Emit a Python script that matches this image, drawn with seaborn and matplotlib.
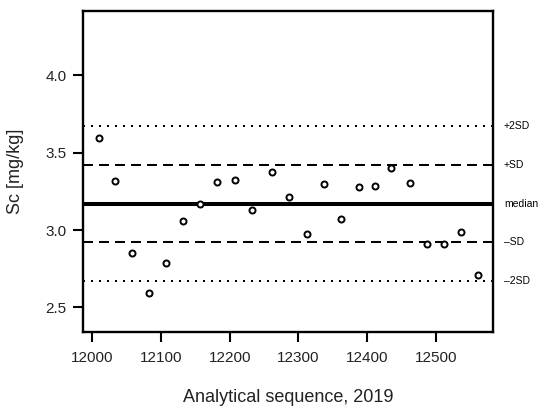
"""
Control chart: Sc concentration over the 2019 analytical sequence.
"""
import numpy as np
import pandas as pd
import matplotlib
matplotlib.use("Agg")
import matplotlib.pyplot as plt
import seaborn as sns

# Data
seq_no = [12009, 12033, 12058, 12082, 12107, 12132, 12157, 12182,
          12207, 12232, 12262, 12287, 12312, 12337, 12362, 12388,
          12412, 12435, 12463, 12487, 12512, 12537, 12561]
sc_mgkg = [3.593, 3.319, 2.849, 2.590, 2.786, 3.060, 3.170, 3.313,
           3.326, 3.129, 3.373, 3.212, 2.972, 3.296, 3.071, 3.280,
           3.285, 3.399, 3.306, 2.909, 2.909, 2.987, 2.707]

median_sc = 3.17
sd_sc = 0.25
level_names = ["+2SD", "+SD", "median", "\u2013SD", "\u20132SD"]
level_values = [median_sc + 2 * sd_sc, median_sc + sd_sc, median_sc,
                median_sc - sd_sc, median_sc - 2 * sd_sc]

x_ticks = [12000, 12100, 12200, 12300, 12400, 12500]
y_ticks = [2.5, 3.0, 3.5, 4.0]

df = pd.DataFrame({"seq": seq_no, "sc": sc_mgkg})

sns.set_style("ticks")
plt.rcParams["font.family"] = ["Liberation Sans", "DejaVu Sans"]

fig = plt.figure(figsize=(5.5, 4.11), dpi=100)
# axes box placed to match the reference (pixels -> fractions)
ax = fig.add_axes([83.2 / 550, 1 - 331.7 / 411, 409.5 / 550, 320.7 / 411])

# reference lines
line_styles = {
    "+2SD": dict(lw=1.44, dashes=(1, 3)),
    "+SD": dict(lw=1.44, dashes=(5, 3)),
    "median": dict(lw=2.9),
    "\u2013SD": dict(lw=1.44, dashes=(5, 3)),
    "\u20132SD": dict(lw=1.44, dashes=(1, 3)),
}
for name, val in zip(level_names, level_values):
    ax.axhline(val, color="black", solid_capstyle="butt",
               dash_capstyle="butt", zorder=1, **line_styles[name])
    ax.text(1.0276, val, name, transform=ax.get_yaxis_transform(),
            ha="left", va="center", fontsize=7.5, color="black")

sns.scatterplot(data=df, x="seq", y="sc", ax=ax, marker="o", s=19,
                facecolor="white", edgecolor="black", linewidth=1.4,
                zorder=3, legend=False)

ax.set_xlim(11986.6, 12583)
ax.set_ylim(2.342, 4.417)
ax.set_xticks(x_ticks)
ax.set_yticks(y_ticks)
ax.set_yticklabels([f"{v:.1f}" for v in y_ticks])

for side in ["top", "right", "bottom", "left"]:
    ax.spines[side].set_visible(True)
    ax.spines[side].set_linewidth(1.7)
    ax.spines[side].set_color("black")

ax.tick_params(axis="both", direction="out", length=7, width=1.5,
               color="black", labelsize=11, labelcolor="#222222")
ax.tick_params(axis="x", pad=7)
ax.tick_params(axis="y", pad=5)

ax.set_xlabel("Analytical sequence, 2019", fontsize=13, color="#222222", va="center")
ax.set_ylabel("Sc [mg/kg]", fontsize=13, color="#222222", va="center")
ax.xaxis.set_label_coords(0.5, -0.2067)
ax.yaxis.set_label_coords(-0.1658, 0.5)

fig.savefig("out.png", dpi=100, facecolor="white")
